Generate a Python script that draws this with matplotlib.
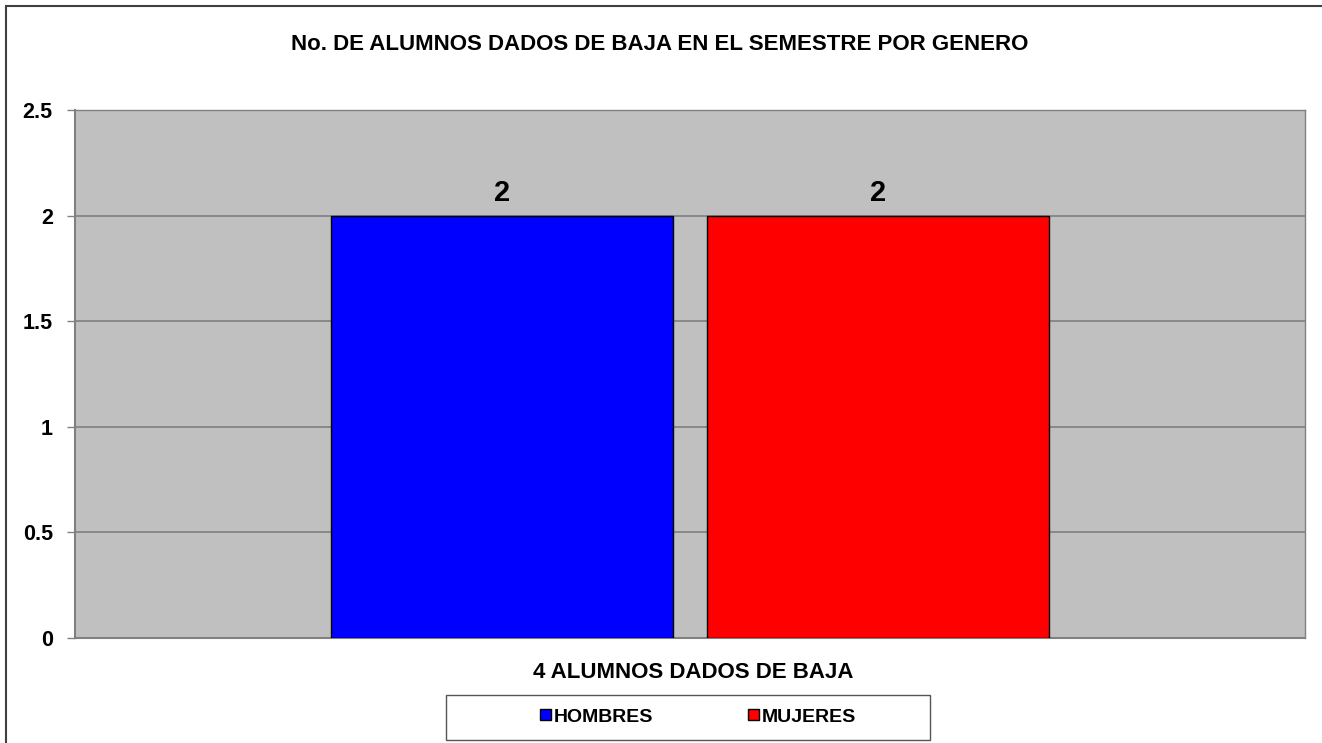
import matplotlib
matplotlib.use("Agg")
import matplotlib.pyplot as plt
from matplotlib.patches import Rectangle

categories = ["HOMBRES", "MUJERES"]
values = [2, 2]
colors = ["#0000FF", "#FF0000"]
yticks = [0, 0.5, 1, 1.5, 2, 2.5]
ytick_labels = ["0", "0.5", "1", "1.5", "2", "2.5"]
title = "No. DE ALUMNOS DADOS DE BAJA EN EL SEMESTRE POR GENERO"
xlabel = "4 ALUMNOS DADOS DE BAJA"

plt.rcParams['font.family'] = ['Liberation Sans', 'DejaVu Sans']
plt.rcParams['font.weight'] = 'bold'

W, H = 1322, 743
fig = plt.figure(figsize=(W/100, H/100), dpi=100)
fig.patch.set_facecolor("white")

# outer chart border
fig.add_artist(Rectangle((6/W, -0.01), 1.1, 1 - 6/H + 0.01, transform=fig.transFigure,
                         fill=False, edgecolor="#404040", linewidth=1.5))

ax = fig.add_axes([75/W, 1 - 638/H, (1305-75)/W, (638-110)/H])
ax.set_facecolor("#C0C0C0")
ax.set_xlim(-0.5, 0.5)
ax.set_ylim(0, 2.5)

width = 0.278
offsets = [-0.153, 0.153]
for off, v, c, lab in zip(offsets, values, colors, categories):
    ax.bar(off, v, width=width, color=c, edgecolor="black", linewidth=1, label=lab, zorder=3)
    ax.text(off, v + 0.04, f"{v}", ha="center", va="bottom", fontsize=21, fontweight="bold", zorder=4)

ax.set_yticks(yticks)
ax.set_yticklabels(ytick_labels, fontsize=15.5, fontweight="bold")
ax.yaxis.grid(True, color="#808080", linewidth=1.2, zorder=1)
ax.set_axisbelow(True)
ax.set_xticks([])
ax.tick_params(axis="y", length=6, width=1, color="#808080", pad=10)
for s in ["left", "bottom"]:
    ax.spines[s].set_color("#808080")
    ax.spines[s].set_linewidth(1.5)
for s in ["top", "right"]:
    ax.spines[s].set_color("#808080")
    ax.spines[s].set_linewidth(1.0)

fig.text(660/W, 1 - 44/H, title, ha="center", va="center", fontsize=16, fontweight="bold")
fig.text(693/W, 1 - 672/H, xlabel, ha="center", va="center", fontsize=16, fontweight="bold")

# legend frame
fig.add_artist(Rectangle((446/W, 1 - 740/H), (930-446)/W, (740-695)/H, transform=fig.transFigure,
                         fill=False, edgecolor="#555555", linewidth=1.0))
leg = ax.legend(loc="center", bbox_to_anchor=(698/W, 1 - 717/H), bbox_transform=fig.transFigure,
                ncol=2, frameon=False,
                prop={"size": 14, "weight": "bold"}, handlelength=0.55, handleheight=0.55,
                handletextpad=0.15, columnspacing=4.9, borderpad=0, borderaxespad=0)

fig.savefig("out.png", dpi=100)
